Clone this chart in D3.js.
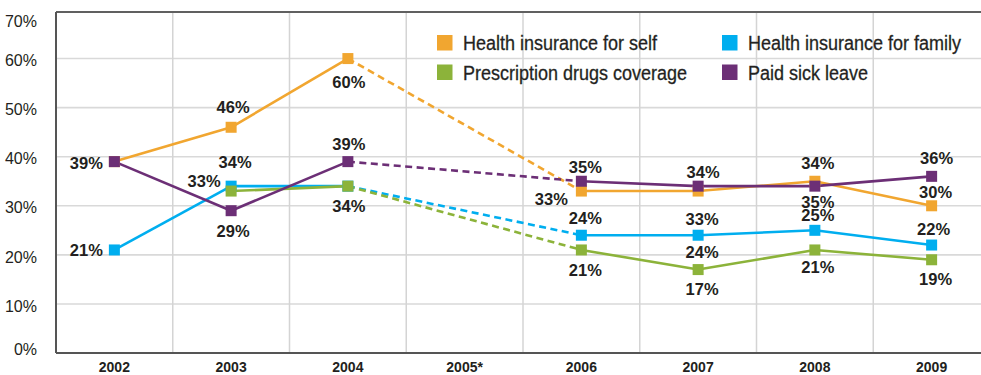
<!DOCTYPE html>
<html>
<head>
<meta charset="utf-8">
<script src="https://cdn.jsdelivr.net/npm/d3@7"></script>
<style>
  html, body { margin: 0; padding: 0; background: #fff; }
  svg { display: block; }
  text { font-family: "Liberation Sans", Arial, Helvetica, sans-serif; fill: #231f20; }
</style>
</head>
<body>
<svg id="chart" width="981" height="375"></svg>
<script>
// Survey years (no survey in 2005)
const years = ["2002", "2003", "2004", "2005*", "2006", "2007", "2008", "2009"];

// Share of respondents (%) per benefit
const healthSelf   = [39, 46, 60, null, 33, 33, 35, 30];
const healthFamily = [21, 34, 34, null, 24, 24, 25, 22];
const drugCoverage = [null, 33, 34, null, 21, 17, 21, 19];
const sickLeave    = [39, 29, 39, null, 35, 34, 34, 36];

const seriesNames = ["Health insurance for self", "Health insurance for family",
                     "Prescription drugs coverage", "Paid sick leave"];
const yTicks = [0, 10, 20, 30, 40, 50, 60, 70];

// Where each value label sits relative to its marker: [dx, dy], null = no label
const labelSelf   = [null, [2, -20], [1, 23], null, [-30, 8], [4, 28], [3, 21], [4, -14]];
const labelFamily = [[-28, 0], [4, -24], null, null, [4, -17], [4, 17], [3, -15], [2, -16]];
const labelDrugs  = [null, [-27, -10], [1, 20], null, [4, 20], [4, 19], [3, 17], [4, 19]];
const labelSick   = [[-28, 1], [2, 20], [1, -18], null, [4, -14], [5, -14], [3, -23], [5, -18]];

const colors = ["#f1a630", "#00aeef", "#8cb33a", "#6c2f76"];

const series = [
  { name: seriesNames[0], values: healthSelf,   labels: labelSelf,   color: colors[0] },
  { name: seriesNames[1], values: healthFamily, labels: labelFamily, color: colors[1] },
  { name: seriesNames[2], values: drugCoverage, labels: labelDrugs,  color: colors[2] },
  { name: seriesNames[3], values: sickLeave,    labels: labelSick,   color: colors[3] }
];

const svg = d3.select("#chart");
const plotLeft = 56, plotRight = 990, plotTop = 12, plotBottom = 353;

const x = d3.scaleBand().domain(years).range([plotLeft, plotRight]).padding(0);
const y = d3.scaleLinear().domain([0, 70]).range([plotBottom, 9.5]);
const cx = yr => x(yr) + x.bandwidth() / 2;

// Narrow a text horizontally, keeping its anchor
function condense(sel, k) {
  sel.each(function () {
    const w = this.getComputedTextLength();
    d3.select(this).attr("textLength", w * k).attr("lengthAdjust", "spacingAndGlyphs");
  });
}

// Grid
const grid = svg.append("g");
grid.selectAll("line.h").data(yTicks.slice(1)).join("line")
  .attr("x1", plotLeft).attr("x2", 981)
  .attr("y1", d => d === 70 ? plotTop : y(d)).attr("y2", d => d === 70 ? plotTop : y(d))
  .attr("stroke", d => d === 70 ? "#2b2b2b" : "#d9d9d9")
  .attr("stroke-width", 1.6);
grid.selectAll("line.v").data(years.slice(1)).join("line")
  .attr("x1", d => x(d)).attr("x2", d => x(d))
  .attr("y1", plotTop + 1).attr("y2", plotBottom)
  .attr("stroke", "#d4d4d4").attr("stroke-width", 1.5);

// Y axis
const yAxis = svg.append("g").attr("transform", `translate(${plotLeft},0)`)
  .call(d3.axisLeft(y).tickValues(yTicks).tickFormat(d => d + "%").tickSize(0).tickPadding(19));
yAxis.select(".domain").attr("stroke", "#555").attr("stroke-width", 2).attr("d", `M0,${plotTop}V${plotBottom}`);
yAxis.selectAll(".tick text")
  .attr("font-family", null).attr("font-size", 16).attr("fill", "#2a2a2a")
  .attr("dy", d => d === 70 ? "1.05em" : d === 0 ? "0.08em" : "0.45em");

// X axis
const xAxis = svg.append("g").attr("transform", `translate(0,${plotBottom})`)
  .call(d3.axisBottom(x).tickSize(0).tickPadding(9));
xAxis.select(".domain").attr("stroke", "#555").attr("stroke-width", 2).attr("d", `M${plotLeft},0H981`);
xAxis.selectAll(".tick text")
  .attr("font-family", null).attr("font-size", 14).attr("font-weight", "bold").attr("fill", "#231f20");

// Lines: solid between consecutive surveys, dashed across the missing year
const line = d3.line().x(d => cx(d.year)).y(d => y(d.value));
const lines = svg.append("g");
series.forEach(s => {
  const pts = years.map((yr, i) => ({ year: yr, value: s.values[i], i }))
    .filter(d => d.value !== null);
  for (let k = 1; k < pts.length; k++) {
    const a = pts[k - 1], b = pts[k];
    lines.append("path")
      .attr("d", line([a, b]))
      .attr("fill", "none")
      .attr("stroke", s.color)
      .attr("stroke-width", 2.6)
      .attr("stroke-dasharray", b.i - a.i > 1 ? "7,4.5" : null);
  }
});

// Markers
const size = 11;
series.forEach(s => {
  svg.append("g").selectAll("rect")
    .data(years.map((yr, i) => ({ year: yr, value: s.values[i] })).filter(d => d.value !== null))
    .join("rect")
    .attr("x", d => cx(d.year) - size / 2)
    .attr("y", d => y(d.value) - size / 2)
    .attr("width", size).attr("height", size)
    .attr("fill", s.color);
});

// Value labels
series.forEach(s => {
  svg.append("g").selectAll("text")
    .data(years.map((yr, i) => ({ year: yr, value: s.values[i], off: s.labels[i] }))
      .filter(d => d.value !== null && d.off))
    .join("text")
    .attr("x", d => cx(d.year) + d.off[0])
    .attr("y", d => y(d.value) + d.off[1])
    .attr("dy", "0.36em")
    .attr("text-anchor", "middle")
    .attr("font-size", 16.5)
    .attr("font-weight", "bold")
    .text(d => d.value + "%");
});

// Legend
const legend = svg.append("g");
const legendPos = [[437, 35], [722, 35], [437, 64.5], [722, 64.5]];
series.forEach((s, i) => {
  const [lx, ly] = legendPos[i];
  legend.append("rect").attr("x", lx).attr("y", ly).attr("width", 15.5).attr("height", 15.5).attr("fill", s.color);
  legend.append("text").attr("x", lx + 26).attr("y", ly + 15)
    .attr("font-size", 20).attr("fill", "#2a2a2a")
    .attr("stroke", "#2a2a2a").attr("stroke-width", 0.3)
    .text(s.name)
    .call(condense, 0.9);
});
</script>
</body>
</html>
